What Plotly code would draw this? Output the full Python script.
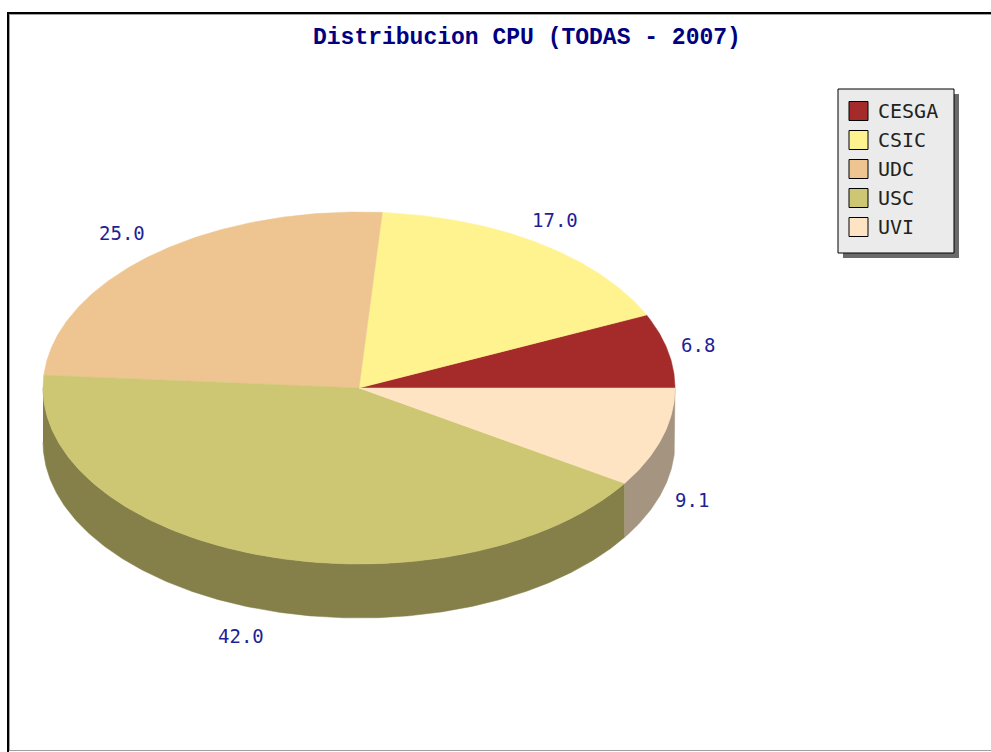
import math
import plotly.graph_objects as go

# ---- data ----
categories = ["CESGA", "CSIC", "UDC", "USC", "UVI"]
values = [6.8, 17.0, 25.0, 42.0, 9.1]
title_text = "Distribucion CPU (TODAS - 2007)"

# ---- style ----
top_colors = ["#A52A2A", "#FFF38F", "#EEC591", "#CDC673", "#FFE4C4"]
side_factor = 0.65
W, H = 991, 752
CX, CY, RX, RY, DEPTH = 359, 388, 316, 176, 54
LABEL_FX, LABEL_FY, LABEL_OX = 1.117, 1.16, -6


def darker(hexc, f):
    r, g, b = (int(hexc[i:i + 2], 16) for i in (1, 3, 5))
    return "rgb(%d,%d,%d)" % (r * f, g * f, b * f)


def pt(deg, dy=0.0, fx=1.0, fy=1.0):
    t = math.radians(deg)
    return CX + fx * RX * math.cos(t), CY - fy * RY * math.sin(t) + dy


total = sum(values)
bounds = []
acc = 0.0
for v in values:
    a0 = acc / total * 360
    acc += v
    a1 = acc / total * 360
    bounds.append((a0, a1))

fig = go.Figure()

# sides (front half, 180..360)
for (a0, a1), col in zip(bounds, top_colors):
    s0, s1 = max(a0, 180), min(a1, 360)
    if s1 <= s0:
        continue
    n = max(2, int((s1 - s0) * 2))
    angs = [s0 + (s1 - s0) * i / n for i in range(n + 1)]
    xs = [pt(a)[0] for a in angs] + [pt(a, DEPTH)[0] for a in reversed(angs)]
    ys = [pt(a)[1] for a in angs] + [pt(a, DEPTH)[1] for a in reversed(angs)]
    sc = darker(col, side_factor)
    fig.add_trace(go.Scatter(x=xs, y=ys, fill="toself", fillcolor=sc, mode="lines",
                             line=dict(color=sc, width=0.5), hoverinfo="skip", showlegend=False))

# top slices
for (a0, a1), col, name in zip(bounds, top_colors, categories):
    n = max(2, int((a1 - a0) * 2))
    angs = [a0 + (a1 - a0) * i / n for i in range(n + 1)]
    xs = [CX] + [pt(a)[0] for a in angs] + [CX]
    ys = [CY] + [pt(a)[1] for a in angs] + [CY]
    fig.add_trace(go.Scatter(x=xs, y=ys, fill="toself", fillcolor=col, mode="lines",
                             line=dict(color=col, width=0.5), name=name,
                             hoverinfo="name", showlegend=False))

# labels
for (a0, a1), v in zip(bounds, values):
    m = (a0 + a1) / 2
    x, y = pt(m, fx=LABEL_FX, fy=LABEL_FY)
    x += LABEL_OX
    if math.sin(math.radians(m)) < 0:
        y += DEPTH
    fig.add_annotation(x=x, y=y, text="%.1f" % v, showarrow=False,
                       font=dict(family="DejaVu Sans Mono", size=19, color="#1F1F96"))

shapes = []
# frame
shapes.append(dict(type="line", x0=8, x1=8, y0=12, y1=H, line=dict(color="black", width=2)))
shapes.append(dict(type="line", x0=7, x1=W, y0=13, y1=13, line=dict(color="black", width=2)))
shapes.append(dict(type="line", x0=9.5, x1=9.5, y0=14, y1=750, line=dict(color="#A0A0A0", width=1)))
shapes.append(dict(type="line", x0=9, x1=W, y0=14.5, y1=14.5, line=dict(color="#A0A0A0", width=1)))
shapes.append(dict(type="line", x0=9, x1=W, y0=750.5, y1=750.5, line=dict(color="#A0A0A0", width=1)))

# legend box with shadow
LX0, LX1, LY0, LY1 = 838, 954, 89, 253
shapes.append(dict(type="rect", x0=LX0 + 5, x1=LX1 + 5, y0=LY0 + 5, y1=LY1 + 5,
                   fillcolor="#6A6A6A", line=dict(width=0)))
shapes.append(dict(type="rect", x0=LX0, x1=LX1, y0=LY0, y1=LY1,
                   fillcolor="#EBEBEB", line=dict(color="black", width=1)))
for i, (name, col) in enumerate(zip(categories, top_colors)):
    cy = 111 + i * 29
    shapes.append(dict(type="rect", x0=849, x1=868, y0=cy - 9.5, y1=cy + 9.5,
                       fillcolor=col, line=dict(color="black", width=1)))
    fig.add_annotation(x=876, y=cy, text=name, showarrow=False, xanchor="left",
                       font=dict(family="DejaVu Sans Mono", size=20, color="#222222"))

fig.add_annotation(x=527, y=38, text="<b>%s</b>" % title_text, showarrow=False,
                   font=dict(family="Liberation Mono", size=23, color="#000080"))

fig.update_layout(
    width=W, height=H, margin=dict(l=0, r=0, t=0, b=0, pad=0),
    paper_bgcolor="white", plot_bgcolor="white",
    xaxis=dict(range=[0, W], visible=False, fixedrange=True),
    yaxis=dict(range=[H, 0], visible=False, fixedrange=True),
    shapes=shapes, showlegend=False,
)
fig.write_html("out.html", config={"displayModeBar": False},
               post_script="document.body.style.margin='0';document.body.style.overflow='hidden';")
